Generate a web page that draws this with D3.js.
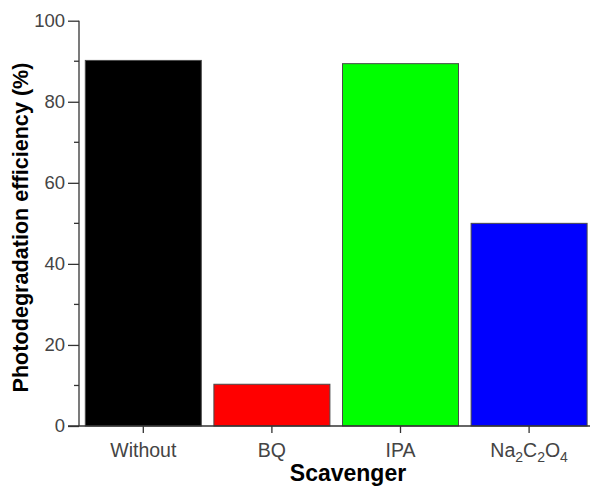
<!DOCTYPE html>
<html><head><meta charset="utf-8">
<script src="https://cdn.jsdelivr.net/npm/d3@7"></script>
<style>body{margin:0;background:#fff}svg{display:block}text{font-family:'Liberation Sans',Arial,Helvetica,sans-serif}</style>
</head><body>
<svg id="c" width="590" height="486"></svg>
<script>
const categories = ["Without", "BQ", "IPA", "Na2C2O4"];
const values = [90.2, 10.3, 89.4, 50.0];
const colors = ["#000000", "#ff0000", "#00ff00", "#0000ff"];
const yTicks = [0, 20, 40, 60, 80, 100];
const yMinorTicks = [10, 30, 50, 70, 90];
const xTitle = "Scavenger";
const yTitle = "Photodegradation efficiency (%)";

const svg = d3.select("#c");
const x = d3.scaleBand().domain(categories).range([79, 593.4]).paddingInner(0.098).paddingOuter(0.049);
const y = d3.scaleLinear().domain([0, 100]).range([426, 20.7]);
const axisColor = "#333";
const font = "'Liberation Sans', Arial, sans-serif";

// bars
svg.append("g").selectAll("rect").data(categories).join("rect")
  .attr("x", d => x(d))
  .attr("y", (d, i) => y(values[i]))
  .attr("width", x.bandwidth())
  .attr("height", (d, i) => y(0) - y(values[i]))
  .attr("fill", (d, i) => colors[i])
  .attr("stroke", "#4a4a4a").attr("stroke-width", 1);

// y axis
const ya = svg.append("g").attr("transform", "translate(79,0)")
  .call(d3.axisLeft(y).tickValues(yTicks).tickSize(11).tickPadding(3).tickFormat(d3.format("d")));
ya.attr("font-family", null);
ya.select(".domain").attr("stroke", axisColor).attr("stroke-width", 1.3).attr("d", `M0,${y(0)}V${y(100)}`);
ya.selectAll(".tick line").attr("stroke", axisColor).attr("stroke-width", 1.3);
ya.selectAll(".tick text").attr("fill", "#444").style("font-family", font).style("font-size", "18.5px");
svg.append("g").selectAll("line").data(yMinorTicks).join("line")
  .attr("x1", 74).attr("x2", 79).attr("y1", d => y(d)).attr("y2", d => y(d))
  .attr("stroke", axisColor).attr("stroke-width", 1.3);

// x axis
const xa = svg.append("g").attr("transform", `translate(0,${y(0)})`)
  .call(d3.axisBottom(x).tickSize(7).tickPadding(6).tickFormat(""));
xa.select(".domain").attr("stroke", axisColor).attr("stroke-width", 1.3).attr("d", "M68,0H590");
xa.selectAll(".tick line").attr("stroke", axisColor).attr("stroke-width", 1.3);

// x tick labels with subscripts
const lab = svg.append("g");
categories.forEach(c => {
  const t = lab.append("text").attr("x", x(c) + x.bandwidth() / 2).attr("y", 456.5)
    .attr("text-anchor", "middle").attr("fill", "#444")
    .style("font-family", font).style("font-size", "19.5px");
  const parts = c.match(/[A-Za-z]+|\d+/g);
  let sub = false;
  parts.forEach(p => {
    if (/\d/.test(p)) {
      t.append("tspan").attr("dy", 5).style("font-size", "14px").text(p);
      sub = true;
    } else {
      t.append("tspan").attr("dy", sub ? -5 : 0).text(p);
      sub = false;
    }
  });
});

// titles
svg.append("text").attr("x", 348).attr("y", 481).attr("text-anchor", "middle")
  .style("font-family", font).style("font-size", "23px").style("font-weight", "bold").attr("fill", "#000")
  .text(xTitle);
svg.append("text").attr("transform", "translate(28,227.5) rotate(-90)").attr("text-anchor", "middle")
  .style("font-family", font).style("font-size", "21.6px").style("font-weight", "bold").attr("fill", "#000")
  .text(yTitle);
</script>
</body></html>
